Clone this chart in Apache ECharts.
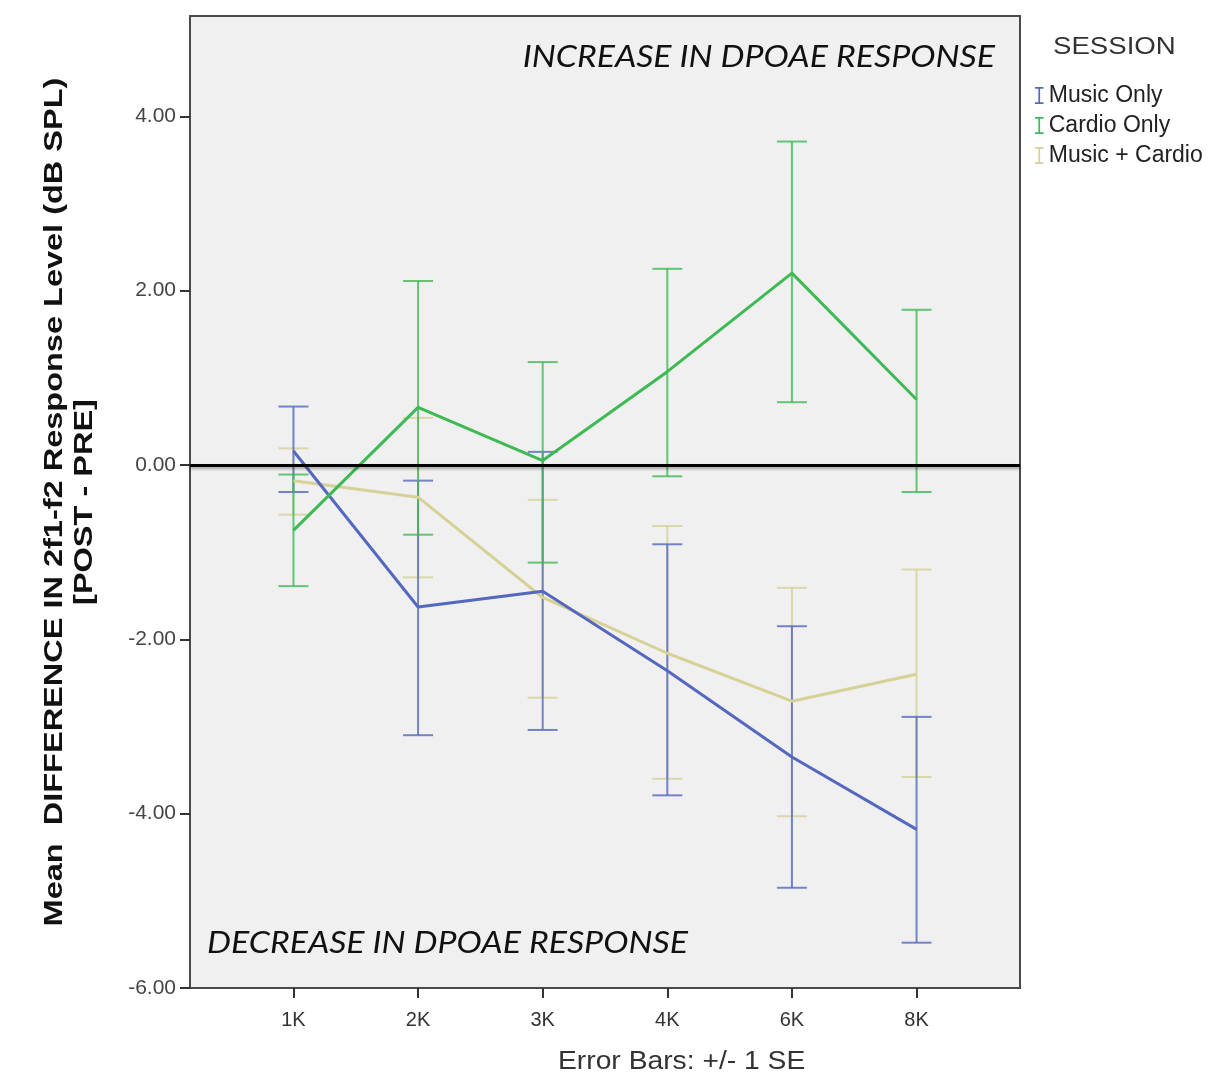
<!DOCTYPE html>
<html>
<head>
<meta charset="utf-8">
<script src="https://cdn.jsdelivr.net/npm/echarts@6/dist/echarts.min.js"></script>
<style>
html,body{margin:0;padding:0;background:#fff;}
#chart{width:1213px;height:1084px;}
</style>
</head>
<body>
<div id="chart"></div>
<script>
// frequencies (x categories)
var freqs = ['1K', '2K', '3K', '4K', '6K', '8K'];
var yTicks = [-6, -4, -2, 0, 2, 4];

// Music Only
var musicMean = [0.16, -1.63, -1.45, -2.36, -3.35, -4.18];
var musicHi   = [0.67, -0.18, 0.15, -0.91, -1.85, -2.89];
var musicLo   = [-0.31, -3.10, -3.04, -3.79, -4.85, -5.48];

// Cardio Only
var cardioMean = [-0.75, 0.66, 0.05, 1.07, 2.20, 0.75];
var cardioHi   = [-0.11, 2.11, 1.18, 2.25, 3.71, 1.78];
var cardioLo   = [-1.39, -0.80, -1.12, -0.13, 0.72, -0.31];

// Music + Cardio
var bothMean = [-0.18, -0.37, -1.52, -2.16, -2.71, -2.40];
var bothHi   = [0.19, 0.54, -0.40, -0.70, -1.41, -1.20];
var bothLo   = [-0.57, -1.29, -2.67, -3.60, -4.03, -3.58];

var dom = document.getElementById('chart');
var myChart = echarts.init(dom);

var BLUE = '#5468c0', GREEN = '#3eba54', KHAKI = '#d6d196';
var fontFam = '"Liberation Sans", Arial, sans-serif';

function linePts(arr){
	var out = [];
	for (var i = 0; i < arr.length; i++) out.push([i, arr[i]]);
	return out;
}
function barPts(lo, hi){
	var out = [];
	for (var i = 0; i < lo.length; i++) out.push([i, lo[i], hi[i]]);
	return out;
}

// error bar with caps
function errorRender(params, api){
	var x = api.value(0);
	var top = api.coord([x, api.value(2)]);
	var bot = api.coord([x, api.value(1)]);
	var hw = 15;
	var st = {stroke: api.visual('color'), lineWidth: 2, opacity: 0.8};
	return {
		type: 'group',
		children: [
			{type: 'line', shape: {x1: top[0], y1: top[1], x2: bot[0], y2: bot[1]}, style: st},
			{type: 'line', shape: {x1: top[0] - hw, y1: top[1], x2: top[0] + hw, y2: top[1]}, style: st},
			{type: 'line', shape: {x1: bot[0] - hw, y1: bot[1], x2: bot[0] + hw, y2: bot[1]}, style: st}
		]
	};
}

function errSeries(name, color, lo, hi){
	return {
		name: name, type: 'custom', renderItem: errorRender,
		itemStyle: {color: color}, data: barPts(lo, hi), z: 2
	};
}
function meanSeries(name, color, arr){
	return {
		name: name, type: 'line', data: linePts(arr), symbol: 'none',
		itemStyle: {color: color}, lineStyle: {color: color, width: 3}, z: 3
	};
}

var option = {
	backgroundColor: '#fff',
	animation: false,
	grid: {
		left: 190, right: 193, top: 16, bottom: 96,
		show: true, backgroundColor: '#f0f0f0', borderColor: '#4a4a4a', borderWidth: 2
	},
	legend: {
		orient: 'vertical', left: 1030, top: 79,
		data: ['Music Only', 'Cardio Only', 'Music + Cardio'],
		icon: 'path://M0,0H10V2H6V18H10V20H0V18H4V2H0Z',
		itemWidth: 9, itemHeight: 17, itemGap: 7,
		textStyle: {fontFamily: fontFam, fontSize: 23, color: '#222'}
	},
	xAxis: {
		type: 'value', min: -0.83, max: 5.83,
		axisLine: {show: true, onZero: false, lineStyle: {color: '#4a4a4a', width: 2}},
		axisTick: {show: true, length: 10, customValues: [0, 1, 2, 3, 4, 5], lineStyle: {color: '#333', width: 2}},
		axisLabel: {
			customValues: [0, 1, 2, 3, 4, 5], margin: 22,
			fontFamily: fontFam, fontSize: 20, color: '#333',
			formatter: function(v){ return freqs[Math.round(v)]; }
		},
		splitLine: {show: false}
	},
	yAxis: {
		type: 'value', min: -6, max: 5.15,
		axisLine: {show: true, onZero: false, lineStyle: {color: '#4a4a4a', width: 2}},
		axisTick: {show: true, length: 10, customValues: yTicks, lineStyle: {color: '#333', width: 2}},
		axisLabel: {
			customValues: yTicks, margin: 14,
			fontFamily: fontFam, fontSize: 21, color: '#444',
			formatter: function(v){ return v.toFixed(2); }
		},
		splitLine: {show: false}
	},
	graphic: [
		{type: 'text', x: 70, y: 502, rotation: Math.PI / 2, scaleX: 1.25,
			style: {text: 'Mean  DIFFERENCE IN 2f1-f2 Response Level (dB SPL)\n[POST - PRE]',
				font: 'bold 26px ' + fontFam, fill: '#111', lineHeight: 30,
				textAlign: 'center', textVerticalAlign: 'middle'}},
		{type: 'text', x: 1053, y: 47, scaleX: 1.15,
			style: {text: 'SESSION', font: '24px ' + fontFam, fill: '#333', textAlign: 'left', textVerticalAlign: 'middle'}},
		{type: 'text', x: 995, y: 57, scaleX: 1.13,
			style: {text: 'INCREASE IN DPOAE RESPONSE', font: 'italic 30px Lato, "Open Sans", sans-serif', fill: '#111', textAlign: 'right', textVerticalAlign: 'middle'}},
		{type: 'text', x: 207, y: 943, scaleX: 1.13,
			style: {text: 'DECREASE IN DPOAE RESPONSE', font: 'italic 30px Lato, "Open Sans", sans-serif', fill: '#111', textAlign: 'left', textVerticalAlign: 'middle'}},
		{type: 'text', x: 558, y: 1062, scaleX: 1.13,
			style: {text: 'Error Bars: +/- 1 SE', font: '25px ' + fontFam, fill: '#333', textAlign: 'left', textVerticalAlign: 'middle'}}
	],
	series: [
		errSeries('Music + Cardio', KHAKI, bothLo, bothHi),
		errSeries('Music Only', BLUE, musicLo, musicHi),
		errSeries('Cardio Only', GREEN, cardioLo, cardioHi),
		meanSeries('Music + Cardio', KHAKI, bothMean),
		meanSeries('Music Only', BLUE, musicMean),
		meanSeries('Cardio Only', GREEN, cardioMean),
		{
			type: 'line', data: [], silent: true,
			markLine: {
				silent: true, symbol: 'none', label: {show: false},
				lineStyle: {color: '#000', width: 3, type: 'solid', shadowColor: 'rgba(0,0,0,0.35)', shadowBlur: 3, shadowOffsetY: 2},
				data: [{yAxis: 0}]
			},
			z: 4
		}
	]
};

myChart.setOption(option, true);
</script>
</body>
</html>
